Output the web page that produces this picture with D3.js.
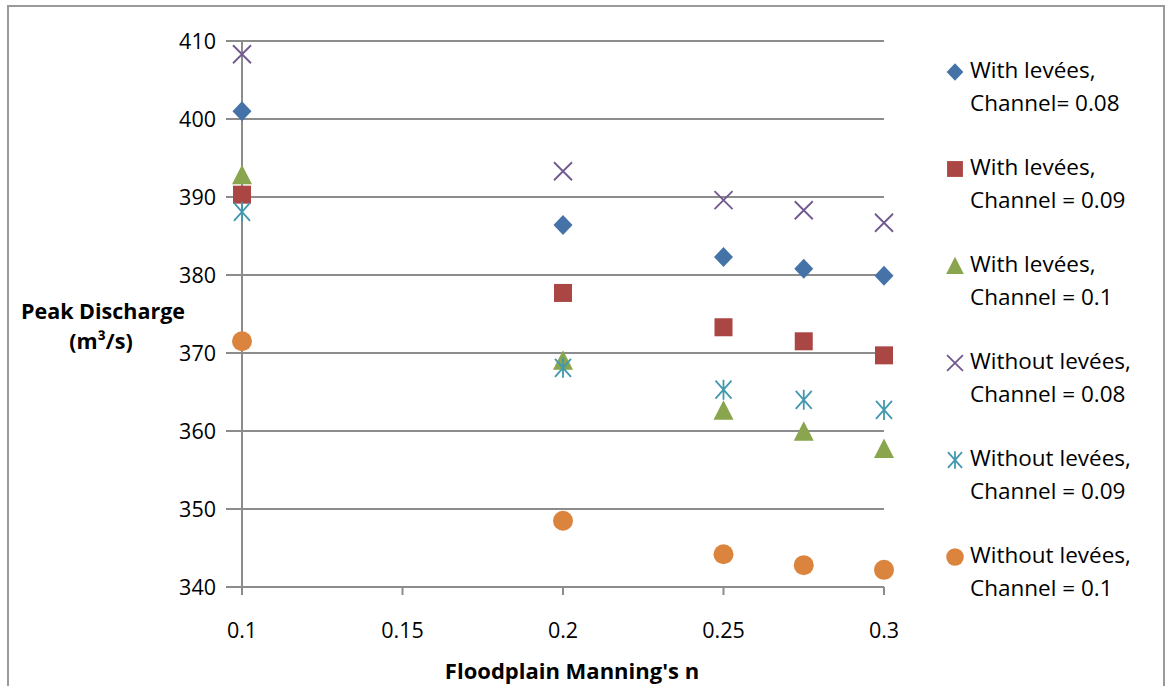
<!DOCTYPE html>
<html><head><meta charset="utf-8">
<script src="https://cdn.jsdelivr.net/npm/d3@7"></script>
<style>body{margin:0;background:#fff}svg{display:block}text{font-family:"Open Sans","Noto Sans",sans-serif;fill:#000}</style>
</head><body><svg id="c" width="1166" height="686"></svg>
<script>
const xValues = [0.1, 0.2, 0.25, 0.275, 0.3];
const seriesNames = ["With levées,|Channel= 0.08","With levées,|Channel = 0.09","With levées,|Channel = 0.1","Without levées,|Channel = 0.08","Without levées,|Channel = 0.09","Without levées,|Channel = 0.1"];
const withLevees008 = [401.0, 386.4, 382.3, 380.8, 379.9];
const withLevees009 = [390.3, 377.7, 373.3, 371.5, 369.7];
const withLevees010 = [392.8, 369.0, 362.6, 359.9, 357.7];
const withoutLevees008 = [408.3, 393.3, 389.6, 388.3, 386.7];
const withoutLevees009 = [388.1, 368.1, 365.3, 364.0, 362.7];
const withoutLevees010 = [371.5, 348.5, 344.2, 342.8, 342.2];
const xTicks = [0.1, 0.15, 0.2, 0.25, 0.3];
const yTicks = [340, 350, 360, 370, 380, 390, 400, 410];
const colors = ["#4572A7","#AA4643","#89A54E","#71588F","#4198AF","#DB843D"];
const shapes = ["diamond","square","triangle","x","star","circle"];
const allSeries = [withLevees008, withLevees009, withLevees010, withoutLevees008, withoutLevees009, withoutLevees010];

const svg = d3.select("#c");
svg.append("rect").attr("x",8).attr("y",6).attr("width",1156).attr("height",700)
  .attr("fill","none").attr("stroke","#9a9a9a").attr("stroke-width",2);

const x = d3.scaleLinear().domain([0.1,0.3]).range([242,884]);
const y = d3.scaleLinear().domain([340,410]).range([587,41]);
const grid = "#8c8c8c";

svg.append("g").selectAll("line").data(yTicks).join("line")
  .attr("x1",226).attr("x2",884).attr("y1",d=>y(d)).attr("y2",d=>y(d))
  .attr("stroke",grid).attr("stroke-width",2);
svg.append("line").attr("x1",x(0.1)).attr("x2",x(0.1)).attr("y1",y(410)).attr("y2",y(340)).attr("stroke",grid).attr("stroke-width",2);
svg.append("g").selectAll("line").data(xTicks).join("line")
  .attr("x1",d=>x(d)).attr("x2",d=>x(d)).attr("y1",y(340)).attr("y2",y(340)+8)
  .attr("stroke",grid).attr("stroke-width",2);
svg.append("g").selectAll("text").data(yTicks).join("text")
  .attr("x",216).attr("y",d=>y(d)+7.8).attr("text-anchor","end")
  .attr("font-size",21.5).text(d=>d);
svg.append("g").selectAll("text").data(xTicks).join("text")
  .attr("x",d=>x(d)).attr("y",638).attr("text-anchor","middle")
  .attr("font-size",21.5).text(d=>d);
svg.append("text").attr("x",572).attr("y",679).attr("text-anchor","middle").attr("font-size",22).attr("font-weight","bold").text("Floodplain Manning's n");
svg.append("text").attr("x",103).attr("y",319).attr("text-anchor","middle").attr("font-size",21.5).attr("font-weight","bold").text("Peak Discharge");
svg.append("text").attr("x",101).attr("y",349).attr("text-anchor","middle").attr("font-size",21.5).attr("font-weight","bold").text("(m³/s)");

function drawMarker(g, shape, color, cx, cy, s) {
  s = s || 1;
  if (shape==="diamond") g.append("path").attr("d",`M${cx},${cy-10*s}L${cx+9.5*s},${cy}L${cx},${cy+10*s}L${cx-9.5*s},${cy}Z`).attr("fill",color);
  else if (shape==="square") g.append("rect").attr("x",cx-9*s).attr("y",cy-9*s).attr("width",18*s).attr("height",18*s).attr("fill",color);
  else if (shape==="triangle") g.append("path").attr("d",`M${cx},${cy-10.5*s}L${cx+10*s},${cy+9*s}L${cx-10*s},${cy+9*s}Z`).attr("fill",color);
  else if (shape==="circle") g.append("circle").attr("cx",cx).attr("cy",cy).attr("r",10*s).attr("fill",color);
  else if (shape==="x") g.append("path").attr("d",`M${cx-9*s},${cy-9*s}L${cx+9*s},${cy+9*s}M${cx+9*s},${cy-9*s}L${cx-9*s},${cy+9*s}`).attr("stroke",color).attr("stroke-width",1.8).attr("fill","none");
  else if (shape==="star") g.append("path").attr("d",`M${cx-8*s},${cy-9*s}L${cx+8*s},${cy+9*s}M${cx+8*s},${cy-9*s}L${cx-8*s},${cy+9*s}M${cx},${cy-10*s}L${cx},${cy+10*s}`).attr("stroke",color).attr("stroke-width",1.8).attr("fill","none");
}

allSeries.forEach((vals,i)=>{
  const g = svg.append("g");
  vals.forEach((v,j)=>drawMarker(g, shapes[i], colors[i], x(xValues[j]), y(v)));
});

const leg = svg.append("g");
seriesNames.forEach((name,i)=>{
  const base = 78 + i*97;
  drawMarker(leg, shapes[i], colors[i], 955, base-6, 0.88);
  name.split("|").forEach((l,k)=>leg.append("text").attr("x",970).attr("y",base+k*33).attr("font-size",22.5).text(l));
});
</script></body></html>
